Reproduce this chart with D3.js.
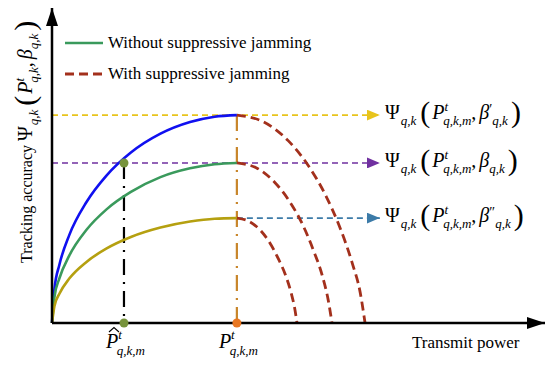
<!DOCTYPE html>
<html>
<head>
<meta charset="utf-8">
<script src="https://cdn.jsdelivr.net/npm/d3@7"></script>
<style>
  body { margin: 0; background: #fff; }
</style>
</head>
<body>
<script>
// rising curves (without jamming), x in power units, y in accuracy units
var riseX = [0, 0.05, 0.15, 0.35, 0.7, 1.1, 1.6, 2.2, 2.8, 3.3, 3.75];
var blueRise = [0, 1.08, 1.85, 2.79, 3.84, 4.67, 5.41, 6.01, 6.38, 6.55, 6.6];
var greenRise = [0, 0.83, 1.42, 2.14, 2.96, 3.60, 4.16, 4.63, 4.91, 5.04, 5.08];
var goldRise = [0, 0.54, 0.93, 1.41, 1.94, 2.36, 2.73, 3.03, 3.22, 3.31, 3.33];

// falling curves (with jamming)
var blueFallX = [3.75, 4.27, 4.79, 5.18, 5.57, 5.83, 6.09, 6.25, 6.35];
var blueFall = [6.6, 6.40, 5.79, 5.04, 3.99, 3.07, 1.90, 0.98, 0];
var greenFallX = [3.75, 4.14, 4.52, 4.81, 5.10, 5.29, 5.49, 5.60, 5.68];
var greenFall = [5.08, 4.93, 4.46, 3.88, 3.07, 2.36, 1.46, 0.75, 0];
var goldFallX = [3.75, 3.99, 4.24, 4.42, 4.60, 4.73, 4.85, 4.92, 4.97];
var goldFall = [3.33, 3.23, 2.92, 2.54, 2.01, 1.55, 0.96, 0.49, 0];

// marked powers
var pHat = 1.46, pOpt = 3.75;
var levels = [6.6, 5.08, 3.33];
var betaMarks = ["\u2032", "", "\u2033"];
var legendNames = ["Without suppressive jamming", "With suppressive jamming"];

var width = 550, height = 368;
var serif = "'Liberation Serif', 'Times New Roman', 'DejaVu Serif', serif";

var svg = d3.select("body").append("svg")
    .attr("width", width)
    .attr("height", height)
    .attr("font-family", serif);

var x = d3.scaleLinear().domain([0, 10]).range([52, 545]);
var y = d3.scaleLinear().domain([0, 10]).range([323, 8]);

// arrow markers
var defs = svg.append("defs");
function marker(id, color, w, h){
    defs.append("marker")
        .attr("id", id)
        .attr("viewBox", "0 0 " + w + " " + h)
        .attr("refX", w).attr("refY", h / 2)
        .attr("markerWidth", w).attr("markerHeight", h)
        .attr("markerUnits", "userSpaceOnUse")
        .attr("orient", "auto")
        .append("path")
        .attr("d", "M0,0L" + w + "," + (h / 2) + "L0," + h + "Z")
        .attr("fill", color);
}
marker("axisArrow", "#000", 18, 12);
var arrowColors = ["#e8c41c", "#7030a0", "#3c7ba8"];
arrowColors.forEach(function(c, i){ marker("arr" + i, c, 13, 11); });

var line = d3.line().curve(d3.curveMonotoneX);
function pts(xs, ys){ return xs.map(function(v, i){ return [x(v), y(ys[i])]; }); }

// horizontal dashed arrows
svg.selectAll(".hArrow")
    .data(levels)
    .enter().append("line")
    .attr("class", "hArrow")
    .attr("x1", function(d, i){ return i == 2 ? x(pOpt) : x(0); })
    .attr("x2", x(6.65))
    .attr("y1", function(d){ return y(d); })
    .attr("y2", function(d){ return y(d); })
    .attr("stroke", function(d, i){ return arrowColors[i]; })
    .attr("stroke-width", 1.6)
    .attr("stroke-dasharray", "6,4")
    .attr("marker-end", function(d, i){ return "url(#arr" + i + ")"; });

// vertical dash-dot lines
svg.append("line")
    .attr("x1", x(pHat)).attr("x2", x(pHat))
    .attr("y1", y(levels[1])).attr("y2", y(0))
    .attr("stroke", "#000").attr("stroke-width", 2.2)
    .attr("stroke-dasharray", "16,7,2,7");
svg.append("line")
    .attr("x1", x(pOpt)).attr("x2", x(pOpt))
    .attr("y1", y(levels[0])).attr("y2", y(0))
    .attr("stroke", "#c8862a").attr("stroke-width", 2.2)
    .attr("stroke-dasharray", "16,7,2,7");

// rising curves
var rise = [[blueRise, "#1010f0"], [greenRise, "#3a9a5c"], [goldRise, "#b5a010"]];
rise.forEach(function(r){
    svg.append("path")
        .attr("d", line(pts(riseX, r[0])))
        .attr("fill", "none")
        .attr("stroke", r[1])
        .attr("stroke-width", 2.6);
});

// falling dashed curves
var fall = [[blueFallX, blueFall], [greenFallX, greenFall], [goldFallX, goldFall]];
fall.forEach(function(f){
    svg.append("path")
        .attr("d", line(pts(f[0], f[1])))
        .attr("fill", "none")
        .attr("stroke", "#a3301c")
        .attr("stroke-width", 2.8)
        .attr("stroke-dasharray", "9,5");
});

// axes
svg.append("line")
    .attr("x1", x(0)).attr("y1", y(0))
    .attr("x2", x(0)).attr("y2", y(10))
    .attr("stroke", "#000").attr("stroke-width", 2.5)
    .attr("marker-end", "url(#axisArrow)");
svg.append("line")
    .attr("x1", x(0)).attr("y1", y(0))
    .attr("x2", x(10)).attr("y2", y(0))
    .attr("stroke", "#000").attr("stroke-width", 2.5)
    .attr("marker-end", "url(#axisArrow)");

// dots
svg.append("circle").attr("cx", x(pHat)).attr("cy", y(levels[1])).attr("r", 4.5).attr("fill", "#77933c");
svg.append("circle").attr("cx", x(pHat)).attr("cy", y(0)).attr("r", 4.5).attr("fill", "#77933c");
svg.append("circle").attr("cx", x(pOpt)).attr("cy", y(0)).attr("r", 4.5).attr("fill", "#e87722");

// legend
var legend = svg.append("g");
legend.append("line")
    .attr("x1", 65).attr("x2", 103).attr("y1", 43).attr("y2", 43)
    .attr("stroke", "#3a9a5c").attr("stroke-width", 2.6);
legend.append("line")
    .attr("x1", 65).attr("x2", 103).attr("y1", 74).attr("y2", 74)
    .attr("stroke", "#a3301c").attr("stroke-width", 2.8)
    .attr("stroke-dasharray", "9,5");
legend.selectAll(".legText")
    .data(legendNames)
    .enter().append("text")
    .attr("x", 108)
    .attr("y", function(d, i){ return 48 + i * 31; })
    .attr("font-size", 17)
    .text(function(d){ return d; });

// helper for math fragments
function addParts(t, parts){
    parts.forEach(function(p){
        var s = t.append("tspan").text(p.s).attr("font-size", p.f || 20);
        if (p.i) s.attr("font-style", "italic");
        if (p.dx) s.attr("dx", p.dx);
        if (p.dy) s.attr("dy", p.dy);
    });
}
function psiParts(sub, beta){
    var parts = [
        {s: "\u03A8", f: 20},
        {s: "q,k", f: 13, i: 1, dy: 6, dx: 1},
        {s: "(", f: 30, dy: -3, dx: 4},
        {s: "P", f: 20, i: 1, dy: -3, dx: 2},
        {s: "t", f: 13, i: 1, dy: -8},
        {s: sub, f: 13, i: 1, dx: -5, dy: 14},
        {s: ",", f: 20, dy: -6},
        {s: "\u03B2", f: 20, i: 1, dx: 3}
    ];
    if (beta) {
        parts.push({s: beta, f: 14, dy: -5});
        parts.push({s: "q,k", f: 13, i: 1, dy: 11});
    } else {
        parts.push({s: "q,k", f: 13, i: 1, dy: 6});
    }
    parts.push({s: ")", f: 30, dy: -3, dx: 3});
    return parts;
}

// right labels
levels.forEach(function(l, i){
    var t = svg.append("text").attr("x", 385).attr("y", y(l) + 4);
    addParts(t, psiParts("q,k,m", betaMarks[i]));
});

// y label
var yl = svg.append("text")
    .attr("transform", "translate(32,263) rotate(-90)");
addParts(yl, [{s: "Tracking accuracy ", f: 16}].concat(psiParts("q,k", "")));

// x label
svg.append("text").attr("x", 412).attr("y", 348).attr("font-size", 17).text("Transmit power");

// bottom power labels
function powerLabel(px){
    var t = svg.append("text").attr("x", px).attr("y", 348);
    addParts(t, [
        {s: "P", f: 20, i: 1},
        {s: "t", f: 13, i: 1, dy: -9},
        {s: "q,k,m", f: 13, i: 1, dx: -5, dy: 16}
    ]);
}
powerLabel(x(pHat) - 18);
powerLabel(x(pOpt) - 18);
// hat over P-hat
svg.append("path")
    .attr("d", "M" + (x(pHat) - 15) + ",332L" + (x(pHat) - 10) + ",327.5L" + (x(pHat) - 5) + ",332")
    .attr("fill", "none")
    .attr("stroke", "#000")
    .attr("stroke-width", 1.1);
</script>
</body>
</html>
